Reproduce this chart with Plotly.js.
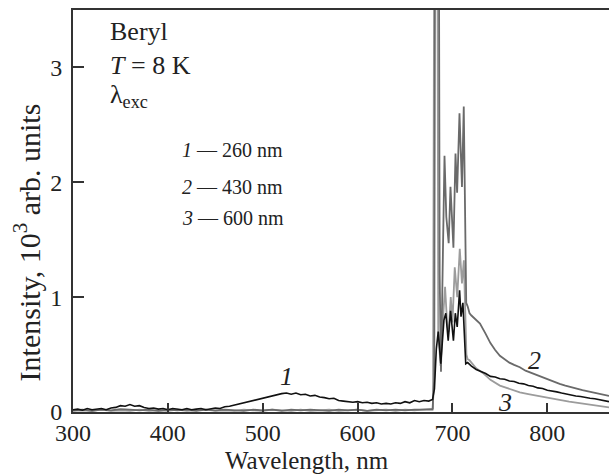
<!DOCTYPE html>
<html>
<head>
<meta charset="utf-8">
<script src="https://cdn.plot.ly/plotly-3.0.1.min.js"></script>
<style>html,body{margin:0;padding:0;background:#fff;}#chart{width:609px;height:475px;}</style>
</head>
<body>
<div id="chart"></div>
<script>
// Curve 1 (λexc = 260 nm)
const wl1 = [300,305,310,315,320,325,330,335,340,345,350,355,360,365,370,375,380,385,390,395,400,405,410,415,420,425,430,435,440,445,450,455,460,465,470,475,480,485,490,495,500,505,510,515,520,525,530,535,540,545,550,555,560,565,570,575,580,585,590,595,600,605,610,615,620,625,630,635,640,645,650,655,660,665,670,675,679,681,683,685,687.7,689.5,691,693,695.5,698,699.5,701,703,705,707.5,709,711,712.5,714,716,718,720,725,730,735,740,745,750,755,760,765,770,775,780,785,790,795,800,805,810,815,820,825,830,835,840,845,850,855,860,865];
const int1 = [0.02,0.025,0.015,0.03,0.02,0.025,0.03,0.02,0.035,0.04,0.055,0.05,0.065,0.05,0.055,0.04,0.03,0.035,0.025,0.03,0.02,0.03,0.025,0.02,0.03,0.02,0.025,0.03,0.02,0.03,0.035,0.03,0.045,0.05,0.06,0.07,0.08,0.09,0.10,0.11,0.125,0.13,0.14,0.155,0.16,0.165,0.155,0.165,0.15,0.155,0.14,0.145,0.13,0.125,0.115,0.12,0.10,0.095,0.09,0.085,0.09,0.08,0.085,0.075,0.08,0.07,0.075,0.07,0.08,0.075,0.09,0.08,0.10,0.09,0.10,0.095,0.11,0.20,0.55,0.70,0.42,0.65,0.80,0.86,0.62,0.88,0.72,0.62,0.86,0.74,1.06,0.83,0.95,0.60,0.42,0.43,0.41,0.40,0.37,0.355,0.335,0.31,0.305,0.29,0.285,0.27,0.265,0.25,0.245,0.23,0.225,0.21,0.205,0.19,0.185,0.175,0.165,0.155,0.15,0.14,0.135,0.125,0.12,0.115,0.105,0.10,0.09];
// Curve 2 (λexc = 430 nm)
const wl2 = [300,310,320,330,340,350,360,370,380,390,400,410,420,430,440,450,460,470,480,490,500,510,520,530,540,550,560,570,580,590,600,610,620,630,640,650,660,670,679,680.8,681.8,685.5,686.5,687.9,689.5,691.6,693.5,696,697.9,699.5,701,703.2,704.9,707.4,710,711.9,713.3,714.5,716,718,720,725,729,735,740,745,750,755,760,765,771,777,783,789,795,801,807,813,819,825,831,837,843,849,855,862,865];
const int2 = [0.015,0.02,0.01,0.02,0.015,0.025,0.02,0.015,0.02,0.01,0.02,0.015,0.02,0.01,0.02,0.015,0.02,0.015,0.01,0.02,0.015,0.02,0.01,0.02,0.015,0.02,0.015,0.01,0.02,0.015,0.02,0.01,0.02,0.015,0.02,0.015,0.02,0.02,0.02,0.3,5,5,1.2,0.35,1.2,2.23,1.7,1.47,1.96,1.6,1.43,2.25,1.91,2.6,1.96,2.66,1.4,0.95,0.92,0.86,0.84,0.80,0.77,0.68,0.60,0.54,0.49,0.46,0.43,0.41,0.39,0.36,0.34,0.32,0.30,0.28,0.26,0.245,0.23,0.215,0.20,0.19,0.18,0.17,0.16,0.145,0.14];
// Curve 3 (λexc = 600 nm)
const wl3 = [300,310,320,330,340,350,360,370,380,390,400,410,420,430,440,450,460,470,480,490,500,510,520,530,540,550,560,570,580,590,600,610,620,630,640,650,660,670,679.5,681,684,685,687.5,689.5,692.2,694.5,696,698.2,700,702.4,705,707.7,710,712,714.7,716,718,720,725,732,740,750,760,771,780,795,810,823,840,850,862,865];
const int3 = [0.01,0.015,0.01,0.02,0.01,0.015,0.01,0.02,0.01,0.015,0.01,0.02,0.01,0.015,0.02,0.01,0.015,0.01,0.02,0.015,0.01,0.02,0.015,0.01,0.02,0.01,0.015,0.02,0.01,0.015,0.02,0.01,0.015,0.02,0.01,0.02,0.015,0.02,0.03,5,5,0.7,0.4,0.75,1.09,0.75,0.70,1.0,0.78,1.26,1.0,1.42,1.12,1.32,0.5,0.46,0.45,0.43,0.38,0.34,0.28,0.23,0.20,0.17,0.155,0.13,0.11,0.09,0.07,0.06,0.045,0.04];

const xTicks = [300,400,500,600,700,800];
const yTicks = [0,1,2,3];

const F = 'Liberation Serif';
const AX = '#333333';
const TXT = '#222222';

const traces = [
  {x: wl3, y: int3, mode: 'lines', line: {color: '#9c9c9c', width: 1.8}, name: '3'},
  {x: wl2, y: int2, mode: 'lines', line: {color: '#6a6a6a', width: 1.8}, name: '2'},
  {x: wl1, y: int1, mode: 'lines', line: {color: '#111111', width: 1.6}, name: '1'}
];

const ann = (x, y, text, size, xanchor) => ({x, y, xref: 'x', yref: 'y', text, showarrow: false,
  xanchor: xanchor || 'left', yanchor: 'middle', font: {family: F, size, color: TXT}});

const layout = {
  width: 609, height: 475,
  margin: {l: 73, r: 0, t: 10, b: 63},
  paper_bgcolor: '#fff', plot_bgcolor: '#fff',
  showlegend: false,
  font: {family: F, color: TXT},
  xaxis: {
    range: [300, 865], tickvals: xTicks, ticks: 'inside', ticklen: 9, tickwidth: 2, tickcolor: AX,
    showline: true, linecolor: AX, linewidth: 2, mirror: true, showgrid: false, zeroline: false,
    tickfont: {family: F, size: 24, color: TXT}, ticklabelstandoff: -2
  },
  yaxis: {
    range: [0, 3.5], tickvals: yTicks, ticks: 'inside', ticklen: 11, tickwidth: 2, tickcolor: AX,
    showline: true, linecolor: AX, linewidth: 2, mirror: false, showgrid: false, zeroline: false,
    tickfont: {family: F, size: 24, color: TXT}, ticklabelstandoff: 4
  },
  annotations: [
    {xref: 'paper', yref: 'paper', x: 0.4366, y: -0.1218, xanchor: 'center', yanchor: 'middle', showarrow: false,
     text: 'Wavelength, nm', font: {family: F, size: 25, color: TXT}},
    {xref: 'paper', yref: 'paper', x: -0.085, y: 0.423, xanchor: 'center', yanchor: 'middle', showarrow: false,
     textangle: -90, text: 'Intensity, 10<sup>3</sup> arb. units', font: {family: F, size: 30, color: TXT}},
    ann(337, 3.31, 'Beryl', 26),
    ann(337, 3.02, '<i>T</i> = 8 K', 26),
    ann(337, 2.75, 'λ<sub>exc</sub>', 26),
    ann(413, 2.28, '<i>1</i> — 260 nm', 20),
    ann(413, 1.955, '<i>2</i> — 430 nm', 20),
    ann(413, 1.685, '<i>3</i> — 600 nm', 20),
    ann(525.5, 0.31, '<i>1</i>', 26, 'center'),
    ann(786, 0.45, '<i>2</i>', 26, 'center'),
    ann(755, 0.08, '<i>3</i>', 26, 'center')
  ]
};

Plotly.newPlot('chart', traces, layout, {staticPlot: true, displayModeBar: false});
</script>
</body>
</html>
